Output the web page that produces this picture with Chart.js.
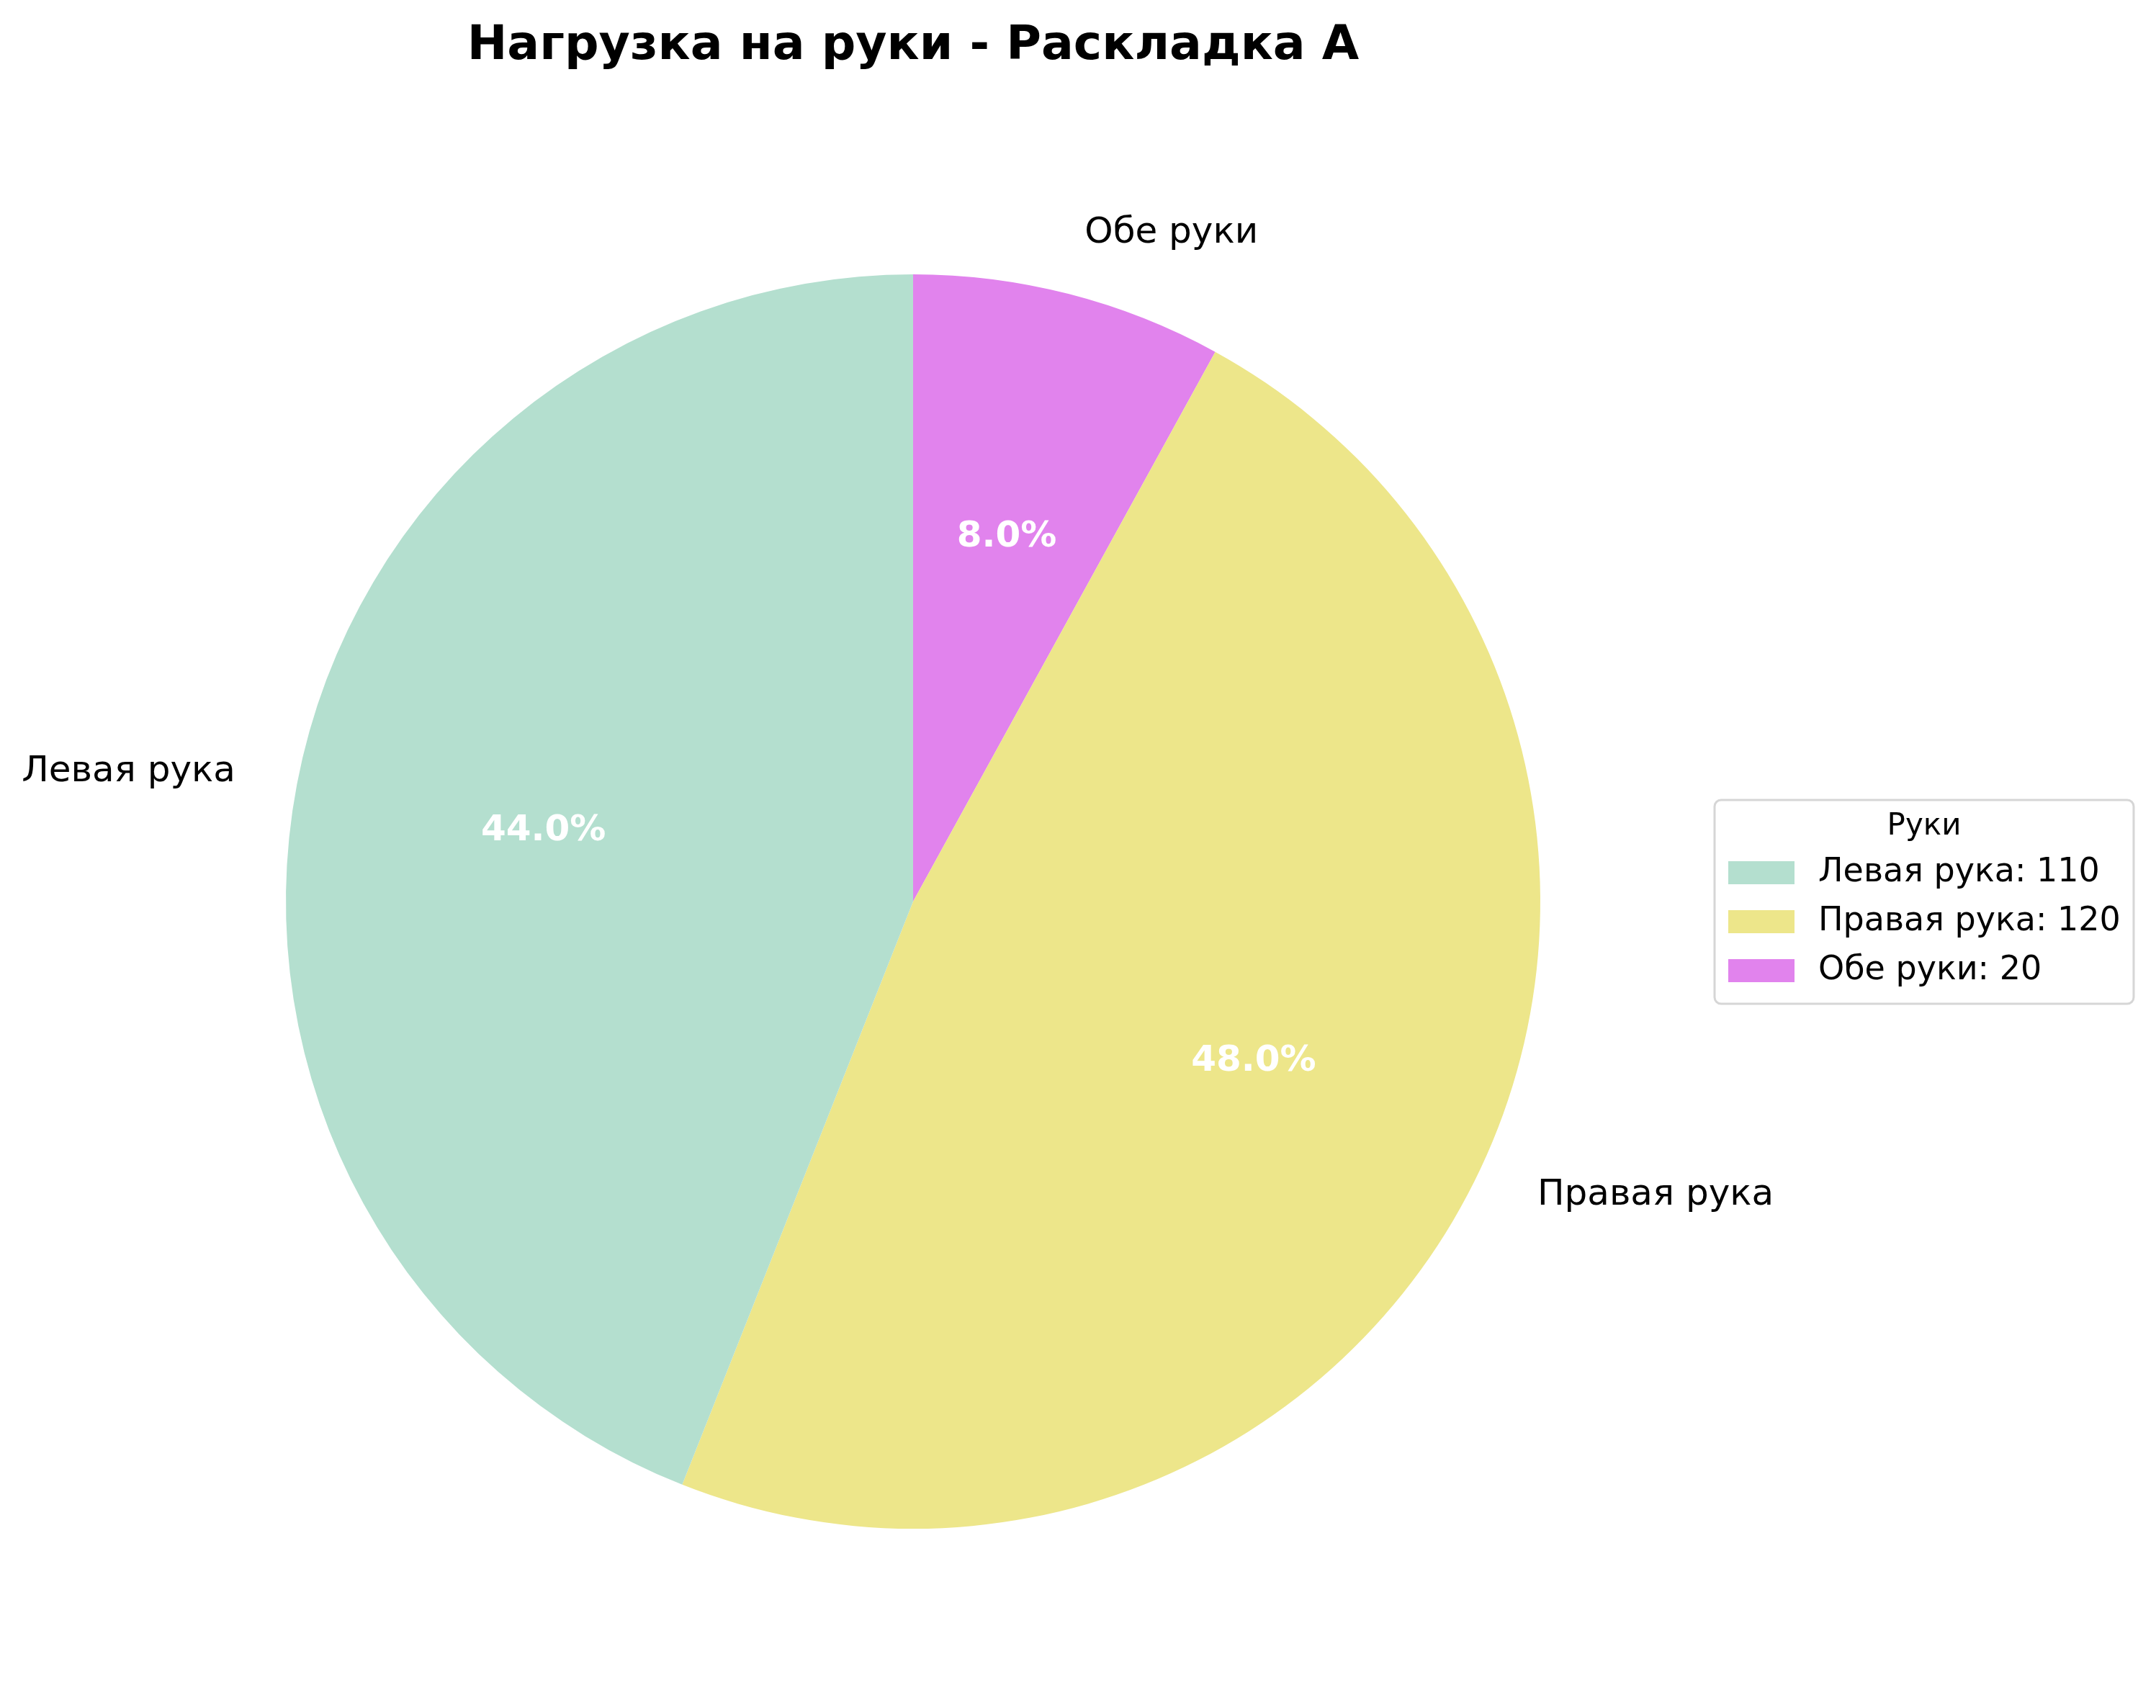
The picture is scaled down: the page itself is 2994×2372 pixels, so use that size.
<!DOCTYPE html>
<html>
<head>
<meta charset="utf-8">
<script src="https://cdn.jsdelivr.net/npm/chart.js@4/dist/chart.umd.min.js"></script>
<style>
  html, body { margin: 0; padding: 0; background: #ffffff; }
  canvas { display: block; }
</style>
</head>
<body>
<canvas id="c" width="2994" height="2372"></canvas>
<script>
// ---- data ----
const categories = ['Левая рука', 'Правая рука', 'Обе руки'];
const values = [110, 120, 20];
const sliceColors = ['#b4dfcf', '#ede68a', '#e183ed'];
const chartTitle = 'Нагрузка на руки - Раскладка A';
const legendTitle = 'Руки';

// matplotlib draws counter-clockwise from the top; Chart.js draws clockwise,
// so feed the slices in reverse order.
const order = categories.map((_, i) => i).reverse();
const total = values.reduce((a, b) => a + b, 0);
const FONT = '"DejaVu Sans", sans-serif';

const textPlugin = {
  id: 'mplText',
  afterDraw(chart) {
    const ctx = chart.ctx;
    const meta = chart.getDatasetMeta(0);
    ctx.save();
    meta.data.forEach((arc, j) => {
      const p = arc.getProps(['x', 'y', 'startAngle', 'endAngle', 'outerRadius'], true);
      const mid = (p.startAngle + p.endAngle) / 2;
      const idx = order[j];
      // outer label
      const lr = p.outerRadius * 1.1;
      const lx = p.x + lr * Math.cos(mid);
      const ly = p.y + lr * Math.sin(mid);
      ctx.font = '50px ' + FONT;
      ctx.fillStyle = '#000000';
      ctx.textAlign = Math.cos(mid) >= 0 ? 'left' : 'right';
      ctx.textBaseline = 'middle';
      ctx.fillText(categories[idx], lx, ly);
      // percentage
      const pr = p.outerRadius * 0.6;
      const px = p.x + pr * Math.cos(mid);
      const py = p.y + pr * Math.sin(mid);
      ctx.font = 'bold 50px ' + FONT;
      ctx.fillStyle = '#ffffff';
      ctx.textAlign = 'center';
      ctx.fillText((values[idx] / total * 100).toFixed(1) + '%', px, py);
    });

    // title
    const cx = (chart.chartArea.left + chart.chartArea.right) / 2;
    ctx.font = 'bold 66.5px ' + FONT;
    ctx.fillStyle = '#000000';
    ctx.textAlign = 'center';
    ctx.textBaseline = 'alphabetic';
    ctx.fillText(chartTitle, cx, 82);

    // legend
    const bx = 2381, by = 1111, bw = 582, bh = 283, rad = 9;
    ctx.beginPath();
    ctx.moveTo(bx + rad, by);
    ctx.arcTo(bx + bw, by, bx + bw, by + bh, rad);
    ctx.arcTo(bx + bw, by + bh, bx, by + bh, rad);
    ctx.arcTo(bx, by + bh, bx, by, rad);
    ctx.arcTo(bx, by, bx + bw, by, rad);
    ctx.closePath();
    ctx.fillStyle = 'rgba(255,255,255,0.8)';
    ctx.fill();
    ctx.lineWidth = 3;
    ctx.strokeStyle = '#d6d6d6';
    ctx.stroke();

    ctx.font = '42px ' + FONT;
    ctx.fillStyle = '#000000';
    ctx.textAlign = 'center';
    ctx.textBaseline = 'middle';
    ctx.fillText(legendTitle, bx + bw / 2, 1148);

    const rowY = [1212, 1280, 1348];
    categories.forEach((name, i) => {
      ctx.fillStyle = sliceColors[i];
      ctx.fillRect(2400, rowY[i] - 16, 92, 32);
      ctx.font = '46px ' + FONT;
      ctx.fillStyle = '#000000';
      ctx.textAlign = 'left';
      ctx.textBaseline = 'middle';
      ctx.fillText(name + ': ' + values[i], 2525, rowY[i]);
    });
    ctx.restore();
  }
};

new Chart(document.getElementById('c'), {
  type: 'pie',
  data: {
    labels: order.map(i => categories[i]),
    datasets: [{
      data: order.map(i => values[i]),
      backgroundColor: order.map(i => sliceColors[i]),
      borderWidth: 0
    }]
  },
  options: {
    responsive: false,
    devicePixelRatio: 1,
    animation: false,
    rotation: 0,
    layout: { padding: { left: 397, right: 855, top: 381, bottom: 249 } },
    plugins: {
      legend: { display: false },
      title: { display: false },
      tooltip: { enabled: false }
    }
  },
  plugins: [textPlugin]
});
</script>
</body>
</html>
